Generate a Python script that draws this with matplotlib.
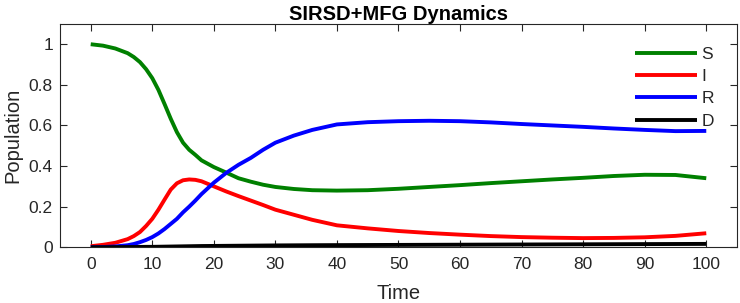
import matplotlib
matplotlib.use("Agg")
import matplotlib.pyplot as plt
from matplotlib.ticker import FixedLocator, FixedFormatter

plt.rcParams['font.family'] = ['Liberation Sans', 'DejaVu Sans']

t = [0, 2, 4, 6, 7, 8, 9, 10, 11, 12, 13, 14, 15, 16, 17, 18, 20, 22, 24, 26, 28,
     30, 33, 36, 40, 45, 50, 55, 60, 65, 70, 75, 80, 85, 90, 95, 100]
S = [1.0, 0.993, 0.979, 0.956, 0.937, 0.912, 0.877, 0.833, 0.775, 0.705, 0.633,
     0.567, 0.515, 0.48, 0.455, 0.428, 0.395, 0.368, 0.340, 0.323, 0.308, 0.297,
     0.287, 0.281, 0.279, 0.281, 0.288, 0.297, 0.306, 0.316, 0.325, 0.334, 0.342,
     0.351, 0.357, 0.356, 0.340]
I = [0.005, 0.012, 0.022, 0.04, 0.055, 0.075, 0.105, 0.14, 0.185, 0.235, 0.284,
     0.315, 0.33, 0.334, 0.332, 0.325, 0.30, 0.275, 0.252, 0.23, 0.208, 0.185,
     0.16, 0.135, 0.108, 0.093, 0.080, 0.070, 0.062, 0.055, 0.050, 0.047, 0.045,
     0.046, 0.049, 0.056, 0.069]
R = [0.0, 0.001, 0.004, 0.01, 0.016, 0.025, 0.036, 0.05, 0.068, 0.09, 0.115, 0.14,
     0.172, 0.20, 0.23, 0.262, 0.318, 0.366, 0.406, 0.44, 0.48, 0.515, 0.55,
     0.578, 0.605, 0.616, 0.621, 0.623, 0.621, 0.615, 0.607, 0.600, 0.593, 0.585,
     0.578, 0.572, 0.573]
D = [0.0, 0.0, 0.0005, 0.001, 0.0012, 0.0015, 0.002, 0.002, 0.0025, 0.003, 0.0035,
     0.004, 0.0045, 0.005, 0.0055, 0.006, 0.0065, 0.007, 0.0075, 0.008, 0.0085,
     0.009, 0.0095, 0.01, 0.0105, 0.011, 0.0115, 0.012, 0.0125, 0.013, 0.0135,
     0.014, 0.0145, 0.015, 0.0155, 0.016, 0.0165]

series = [("S", S, "#008000"), ("I", I, "#ff0000"), ("R", R, "#0000ff"), ("D", D, "#000000")]

xticks = [0, 10, 20, 30, 40, 50, 60, 70, 80, 90, 100]
xticklabels = ["0", "10", "20", "30", "40", "50", "60", "70", "80", "90", "100"]
yticks = [0, 0.2, 0.4, 0.6, 0.8, 1.0]
yticklabels = ["0", "0.2", "0.4", "0.6", "0.8", "1"]

fig = plt.figure(figsize=(7.4, 3.03), dpi=100)
ax = fig.add_axes([0.081, 0.184, 0.915, 0.737])

for name, vals, col in series:
    ax.plot(t, vals, color=col, lw=2.8, label=name, solid_capstyle='butt')

ax.set_xlim(-5, 105)
ax.set_ylim(0, 1.1)
ax.xaxis.set_major_locator(FixedLocator(xticks))
ax.xaxis.set_major_formatter(FixedFormatter(xticklabels))
ax.yaxis.set_major_locator(FixedLocator(yticks))
ax.yaxis.set_major_formatter(FixedFormatter(yticklabels))

dark = "#262626"
ax.tick_params(direction='in', length=5, width=0.8, top=True, right=True,
               labelsize=12.5, colors=dark)
ax.tick_params(axis='x', pad=7)
ax.tick_params(axis='y', pad=5)
for sp in ax.spines.values():
    sp.set_color(dark)
    sp.set_linewidth(0.8)

ax.set_xlabel("Time", fontsize=14.5, color=dark, labelpad=8.5)
ax.set_ylabel("Population", fontsize=14.5, color=dark, labelpad=5)
ax.set_title("SIRSD+MFG Dynamics", fontsize=14.5, fontweight='bold', color='black', pad=3)

leg = ax.legend(loc='upper left', bbox_to_anchor=(0.849, 0.898), frameon=False,
                fontsize=12.5, handlelength=3.56, handletextpad=0.29, labelspacing=0.41,
                borderaxespad=0, borderpad=0)
for txt in leg.get_texts():
    txt.set_color(dark)

fig.savefig("out.png", dpi=100)
